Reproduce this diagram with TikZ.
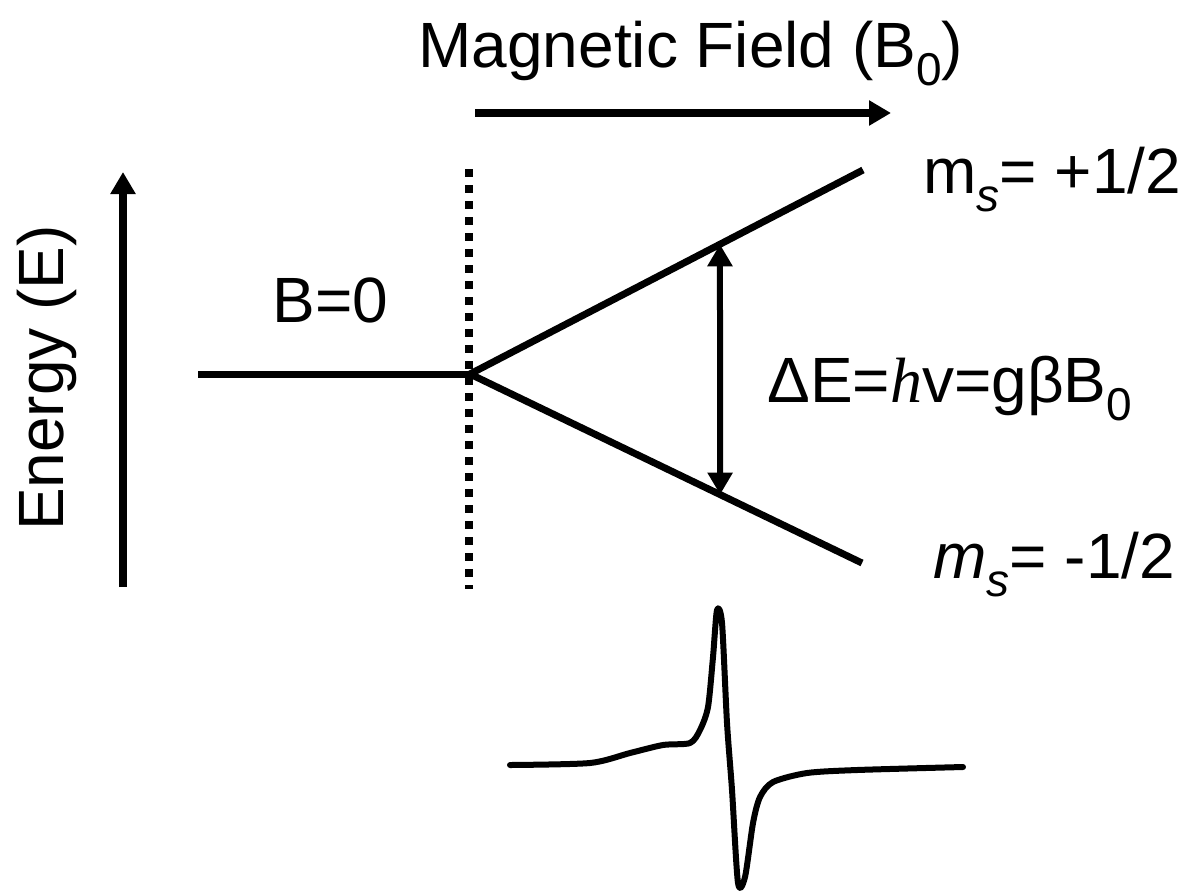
\documentclass[tikz,border=0pt]{standalone}
\usepackage{fontspec}
\setmainfont{Liberation Sans}
\newfontfamily\planckfont{Liberation Serif}
\usetikzlibrary{arrows.meta, calc}
\newcommand{\lowsub}[1]{\raisebox{-9pt}{\fontsize{23}{25}\selectfont #1}}

\begin{document}
\begin{tikzpicture}[x=0.5pt, y=-0.5pt,
    bigtxt/.style={font=\fontsize{32}{38}\selectfont, inner sep=0pt},
    level/.style={line width=3.5pt},
    axis/.style={line width=4pt, -{Triangle[length=11pt, width=12pt]}}]
    \useasboundingbox (0, 0) rectangle (1187, 895);

    % axes
    \coordinate (eLow) at (123, 587);
    \coordinate (eHigh) at (123, 172);
    \draw[axis] (eLow) -- (eHigh);
    \node[bigtxt, rotate=90, anchor=base] (energy) at (63, 378) {Energy (E)};
    \coordinate (bStart) at (475, 113);
    \coordinate (bEnd) at (891, 113);
    \draw[axis] (bStart) -- (bEnd);
    \node[bigtxt, anchor=base west] (field) at (418, 67) {Magnetic Field (B\lowsub{0})};

    % levels
    \coordinate (zeroL) at (198, 374);
    \coordinate (split) at (470, 374);
    \coordinate (up) at (863, 170);
    \coordinate (down) at (862, 563);
    \coordinate (dotTop) at (469, 169);
    \coordinate (dotBot) at (469, 589);
    \draw[line width=3.8pt, dash pattern=on 4pt off 4pt] (dotTop) -- (dotBot);
    \draw[level] (zeroL) -- (split);
    \draw[level] (split) -- (up);
    \draw[level] (split) -- (down);
    \draw[line width=3pt, {Triangle[length=11pt, width=12pt]}-{Triangle[length=11pt, width=12pt]}]
        ($(split)!0.636!(up)$) -- ($(split)!0.638!(down)$);

    \node[bigtxt, anchor=base west] (zero) at (272, 322) {B=0};
    \node[bigtxt, anchor=base west] (plus) at (923, 193) {m\lowsub{\textit{s}}= +1/2};
    \node[bigtxt, anchor=base west] (minus) at (933, 578) {\textit{m}\lowsub{\textit{s}}= -1/2};
    \node[bigtxt, anchor=base west] (gap) at (767, 402) {ΔE={\planckfont\itshape h}v=gβB\lowsub{0}};

    % spectrum
    \draw[line width=3pt, line join=round, line cap=round] plot[smooth, tension=0.45] coordinates {
        (510, 765) (590, 763) (630, 753) (663, 745) (690, 743) (700, 730)
        (708, 707) (713, 657) (717, 610) (722, 623) (727, 723) (732, 790)
        (738, 883) (745, 877) (753, 823) (760, 797) (773, 782) (807, 773)
        (857, 770) (963, 767)};
\end{tikzpicture}
\end{document}
